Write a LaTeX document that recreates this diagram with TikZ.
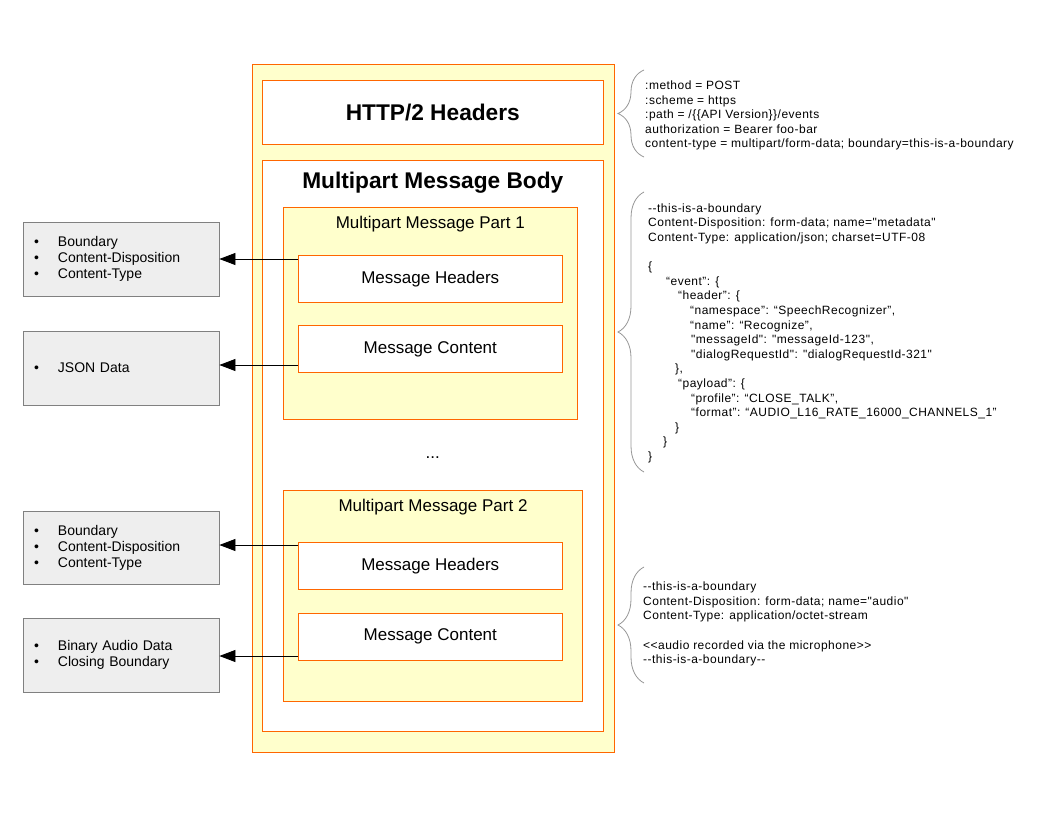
\documentclass[tikz,border=0pt]{standalone}
\usepackage{fontspec}
\setmainfont{Liberation Sans}
\newfontfamily\codefont{Liberation Sans}[LetterSpace=4]
\usetikzlibrary{arrows.meta,calc,decorations.pathreplacing}
\definecolor{figorange}{RGB}{255,102,0}
\definecolor{figyellow}{RGB}{255,255,204}
\definecolor{figgray}{RGB}{128,128,128}
\definecolor{figlight}{RGB}{238,238,238}
\definecolor{figbrace}{RGB}{150,150,150}
\newcommand{\msgW}{264pt}
\newcommand{\infoW}{196pt}
\tikzset{
  obox/.style    ={draw=figorange,line width=1pt,inner sep=0pt},
  ybox/.style    ={obox,fill=figyellow},
  wbox/.style    ={obox,fill=white},
  msgbox/.style  ={wbox,minimum width=\msgW,font=\fontsize{17}{20}\selectfont},
  ttl/.style     ={inner sep=0pt,font=\fontsize{22.7}{27}\selectfont\bfseries},
  ptl/.style     ={inner sep=0pt,font=\fontsize{17}{20}\selectfont},
  infobox/.style ={draw=figgray,fill=figlight,line width=0.8pt,minimum width=\infoW,
                   text width=174pt,inner xsep=11pt,inner ysep=0pt,align=left,
                   font=\fontsize{14}{16}\selectfont},
  codetxt/.style ={inner sep=0pt,anchor=north west,align=left,
                   font=\codefont\fontsize{12}{14.6}\selectfont},
  fgarr/.style   ={line width=0.8pt,-{Triangle[length=16pt,width=12pt]}},
  cbrace/.style  ={figbrace,line width=0.8pt,decorate,
                   decoration={brace,amplitude=26pt,aspect=0.5}},
}
\newcommand{\bl}[1]{\makebox[24pt][l]{\textbullet}#1}

\begin{document}
\begin{tikzpicture}[x=1pt,y=-1pt]
  \useasboundingbox (0,0) rectangle (1056,816);
  % request frame
  \node[ybox,minimum width=361.5pt,minimum height=688pt] (outer) at (433.25,408.3) {};
  \node[wbox,minimum width=341pt,minimum height=64pt,
        font=\fontsize{22.7}{27}\selectfont\bfseries] (hdrs) at (432.8,112.3) {HTTP/2 Headers};
  \node[wbox,minimum width=341pt,minimum height=571pt] (body) at (432.8,445.5) {};
  \node[ttl] (bodyT) at (432.8,182.5) {Multipart Message Body};
  % part 1
  \node[ybox,minimum width=294pt,minimum height=212pt] (part1) at (430.3,313.3) {};
  \node[ptl] (part1T) at (430.3,224) {Multipart Message Part 1};
  \node[msgbox,minimum height=46.6pt] (hd1) at (430.3,279) {Message Headers};
  \node[msgbox,minimum height=47.3pt] (ct1) at (430.3,349.3) {Message Content};
  \node[ptl] (dots) at (432.7,458) {...};
  % part 2
  \node[ybox,minimum width=299pt,minimum height=211.3pt] (part2) at (432.8,596.3) {};
  \node[ptl] (part2T) at (433,507.5) {Multipart Message Part 2};
  \node[msgbox,minimum height=47.3pt] (hd2) at (430.3,566.3) {Message Headers};
  \node[msgbox,minimum height=46.7pt] (ct2) at (430.3,636.7) {Message Content};
  % left notes
  \node[infobox,minimum height=74pt] (lb1) at (121,259)
    {\bl{Boundary}\\ \bl{Content-Disposition}\\ \bl{Content-Type}};
  \node[infobox,minimum height=74pt] (lb2) at (121,368) {\bl{JSON Data}};
  \node[infobox,minimum height=73pt] (lb3) at (121,547.5)
    {\bl{Boundary}\\ \bl{Content-Disposition}\\ \bl{Content-Type}};
  \node[infobox,minimum height=74pt] (lb4) at (121,655)
    {\bl{Binary Audio Data}\\ \bl{Closing Boundary}};
  \foreach \src/\dst/\dy in {hd1/lb1/0,ct1/lb2/-3,hd2/lb3/-2.5,ct2/lb4/1}
    \draw[fgarr] ($(\src.west |- \dst.east)+(0,\dy)$) -- ($(\dst.east)+(0,\dy)$);
  % right side wire text
  \node[codetxt] (hdrTxt) at (645,80.7) {:method = POST\\
    :scheme = https\\
    :path = /\{\{API Version\}\}/events\\
    authorization = Bearer foo-bar\\
    content-type = multipart/form-data; boundary=this-is-a-boundary};
  \node[codetxt] (metaTxt) at (648,203.3) {--this-is-a-boundary\\
    Content-Disposition: form-data; name="metadata"\\
    Content-Type: application/json; charset=UTF-08\\
    \mbox{}\\
    \{\\
    \hspace*{18pt}“event”: \{\\
    \hspace*{30pt}“header”: \{\\
    \hspace*{42pt}“namespace”: “SpeechRecognizer”,\\
    \hspace*{42pt}“name”: “Recognize”,\\
    \hspace*{43pt}"messageId": "messageId-123",\\
    \hspace*{43pt}"dialogRequestId": "dialogRequestId-321"\\
    \hspace*{27pt}\},\\
    \hspace*{30pt}“payload”: \{\\
    \hspace*{43pt}“profile”: “CLOSE\_TALK”,\\
    \hspace*{43pt}“format”: “AUDIO\_L16\_RATE\_16000\_CHANNELS\_1”\\
    \hspace*{27pt}\}\\
    \hspace*{15pt}\}\\
    \}};
  \node[codetxt] (audioTxt) at (643,581.7) {--this-is-a-boundary\\
    Content-Disposition: form-data; name="audio"\\
    Content-Type: application/octet-stream\\
    \mbox{}\\
    <<audio recorded via the microphone>>\\
    --this-is-a-boundary--};
  % braces
  \coordinate (br1a) at (644,157); \coordinate (br1b) at (644,70);
  \coordinate (br2a) at (644,472); \coordinate (br2b) at (644,192);
  \coordinate (br3a) at (644,683); \coordinate (br3b) at (644,567);
  \draw[cbrace] (br1a) -- (br1b);
  \draw[cbrace] (br2a) -- (br2b);
  \draw[cbrace] (br3a) -- (br3b);
\end{tikzpicture}
\end{document}
